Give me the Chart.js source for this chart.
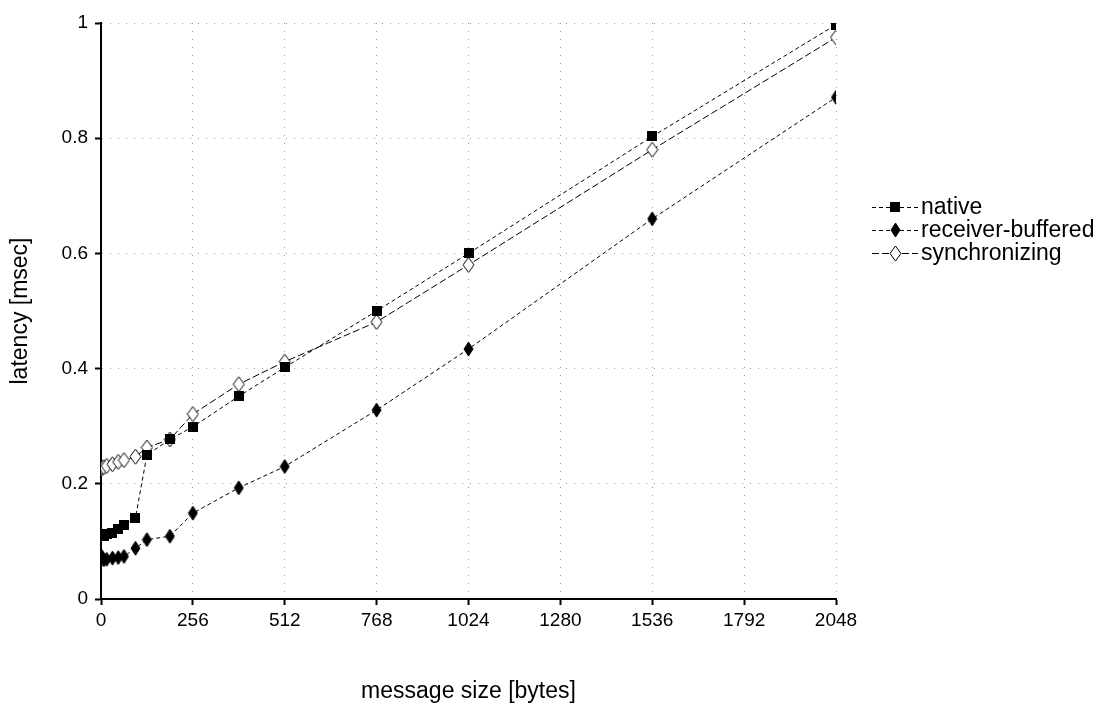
<!DOCTYPE html>
<html lang="en">

<head>
    <meta charset="UTF-8" />
    <title>Message Latency</title>
    <script src="https://cdn.jsdelivr.net/npm/chart.js"></script>
    <style>
        body {
            margin: 0;
            background-color: #fff;
        }

        canvas {
            display: block;
        }
    </style>
</head>

<body>
    <canvas id="latencyChart" width="1108" height="705"></canvas>

    <script>
        // message sizes in bytes
        const sizes = [1, 4, 8, 16, 32, 48, 64, 96, 128, 192, 256, 384, 512, 768, 1024, 1536, 2048];

        // latency in msec for each size
        const nativeLatency = [0.109, 0.110, 0.110, 0.112, 0.115, 0.122, 0.128, 0.141, 0.250, 0.277, 0.299, 0.352, 0.402, 0.500, 0.600, 0.803, 0.997];
        const receiverBuffered = [0.075, 0.071, 0.068, 0.069, 0.071, 0.072, 0.074, 0.088, 0.103, 0.109, 0.149, 0.193, 0.230, 0.328, 0.434, 0.660, 0.871];
        const synchronizing = [0.226, 0.228, 0.229, 0.231, 0.234, 0.238, 0.241, 0.247, 0.263, 0.277, 0.321, 0.373, 0.412, 0.481, 0.580, 0.780, 0.975];

        const seriesNames = ["native", "receiver-buffered", "synchronizing"];
        const xTicks = [0, 256, 512, 768, 1024, 1280, 1536, 1792, 2048];
        const yTicks = [0, 0.2, 0.4, 0.6, 0.8, 1];

        const FONT = "'Liberation Sans', Arial, sans-serif";

        // narrow diamond markers drawn onto small canvases
        function diamond(w, h, filled) {
            const c = document.createElement("canvas");
            c.width = w + 2;
            c.height = h + 2;
            const g = c.getContext("2d");
            g.beginPath();
            g.moveTo(c.width / 2, 1);
            g.lineTo(c.width - 1, c.height / 2);
            g.lineTo(c.width / 2, c.height - 1);
            g.lineTo(1, c.height / 2);
            g.closePath();
            g.fillStyle = filled ? "#000" : "#fff";
            g.fill();
            g.lineWidth = 1;
            g.strokeStyle = "#000";
            g.stroke();
            return c;
        }

        function square(s) {
            const c = document.createElement("canvas");
            c.width = s;
            c.height = s;
            const g = c.getContext("2d");
            g.fillStyle = "#000";
            g.fillRect(0, 0, s, s);
            return c;
        }

        const markers = [square(10), diamond(9, 14, true), diamond(11, 15, false)];
        const dashes = [[4, 3], [4, 3], [7, 3]];

        const toPoints = values => sizes.map((x, i) => ({ x: x, y: values[i] }));

        const datasets = [nativeLatency, receiverBuffered, synchronizing].map((values, i) => ({
            label: seriesNames[i],
            data: toPoints(values),
            showLine: true,
            borderColor: "#000",
            borderWidth: 1,
            borderDash: dashes[i],
            pointStyle: markers[i],
            pointRadius: 6,
            clip: 0
        }));

        // legend on the right: dashed line with the marker in the middle
        const sideLegend = {
            id: "sideLegend",
            afterDraw(chart) {
                const ctx = chart.ctx;
                const rows = [207, 230, 253];
                ctx.save();
                ctx.font = "23px " + FONT;
                ctx.textBaseline = "middle";
                ctx.fillStyle = "#000";
                chart.data.datasets.forEach((ds, i) => {
                    const y = rows[i];
                    ctx.strokeStyle = "#000";
                    ctx.lineWidth = 1;
                    ctx.setLineDash(ds.borderDash);
                    ctx.beginPath();
                    ctx.moveTo(872, y + 0.5);
                    ctx.lineTo(918, y + 0.5);
                    ctx.stroke();
                    ctx.setLineDash([]);
                    const m = ds.pointStyle;
                    ctx.drawImage(m, Math.round(895 - m.width / 2), Math.round(y - m.height / 2));
                    ctx.fillText(ds.label, 921, y + 1);
                });
                ctx.restore();
            }
        };

        const plainLabel = v => String(v);

        const gridOpts = {
            color: "#999",
            tickColor: "#000",
            tickLength: 6,
            tickWidth: 2
        };

        new Chart(document.getElementById("latencyChart"), {
            type: "scatter",
            data: { datasets: datasets },
            options: {
                responsive: false,
                animation: false,
                layout: { padding: { top: 23, right: 272, left: 0, bottom: 0 } },
                plugins: {
                    legend: { display: false },
                    tooltip: { enabled: false }
                },
                scales: {
                    x: {
                        type: "linear",
                        min: 0,
                        max: 2048,
                        afterFit: s => { s.height = 106; },
                        afterBuildTicks: s => { s.ticks = xTicks.map(v => ({ value: v })); },
                        ticks: {
                            color: "#000",
                            font: { family: FONT, size: 19 },
                            padding: 4,
                            maxRotation: 0,
                            callback: plainLabel
                        },
                        grid: gridOpts,
                        border: { color: "#000", width: 2, dash: [1, 7] },
                        title: {
                            display: true,
                            text: "message size [bytes]",
                            color: "#000",
                            font: { family: FONT, size: 23 },
                            padding: { top: 0, bottom: 0 }
                        }
                    },
                    y: {
                        min: 0,
                        max: 1,
                        afterFit: s => { s.width = 101; },
                        afterBuildTicks: s => { s.ticks = yTicks.map(v => ({ value: v })); },
                        ticks: {
                            color: "#000",
                            font: { family: FONT, size: 19 },
                            padding: 7,
                            callback: plainLabel
                        },
                        grid: gridOpts,
                        border: { color: "#000", width: 2, dash: [1, 7] },
                        title: {
                            display: true,
                            text: "latency [msec]",
                            color: "#000",
                            font: { family: FONT, size: 23 },
                            padding: { top: 7, bottom: 0 }
                        }
                    }
                }
            },
            plugins: [sideLegend]
        });
    </script>
</body>

</html>
